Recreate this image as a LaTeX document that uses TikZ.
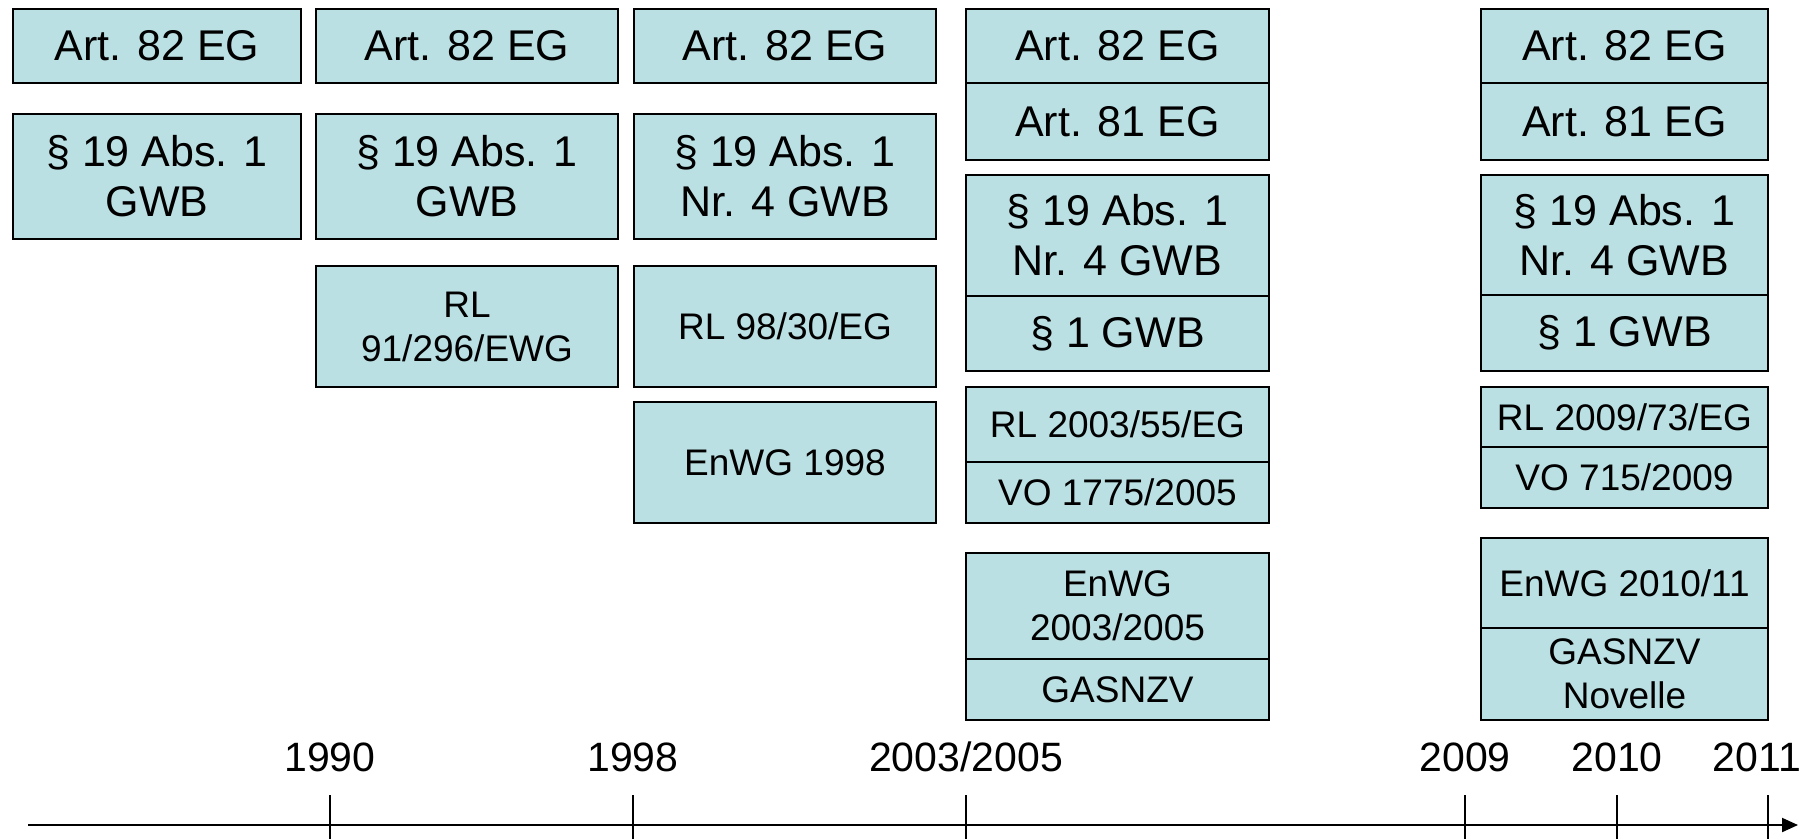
\documentclass[tikz,border=0pt]{standalone}
\usepackage{fontspec}
\setmainfont{Liberation Sans}
\usetikzlibrary{arrows.meta}
\definecolor{boxfill}{RGB}{187,224,227}
\tikzset{
  lawbox/.style={draw=black, fill=boxfill, line width=2pt, inner sep=0pt, outer sep=0pt,
    anchor=north west, align=center},
  big/.style={font=\fontsize{43}{50}\selectfont},
  small/.style={font=\fontsize{37}{44}\selectfont},
  yearlabel/.style={anchor=base, inner sep=0pt, font=\fontsize{41}{48}\selectfont},
  axisline/.style={line width=2pt, -{Triangle[length=16pt,width=14pt]}},
  tickline/.style={line width=2pt}
}
\newcommand{\lbox}[7]{\node[lawbox,#6,minimum width=#4pt,minimum height=#5pt] (#1) at (#2,#3) {#7};}
\begin{document}
\begin{tikzpicture}[x=1pt,y=-1pt]
\useasboundingbox (0,0) rectangle (1819,839);
% column 1
\lbox{c1a}{13}{9}{288}{74}{big}{Art. 82 EG}
\lbox{c1b}{13}{114}{288}{125}{big}{§ 19 Abs. 1\\GWB}
% column 2
\lbox{c2a}{316}{9}{302}{74}{big}{Art. 82 EG}
\lbox{c2b}{316}{114}{302}{125}{big}{§ 19 Abs. 1\\GWB}
\lbox{c2c}{316}{266}{302}{121}{small}{RL\\91/296/EWG}
% column 3
\lbox{c3a}{634}{9}{302}{74}{big}{Art. 82 EG}
\lbox{c3b}{634}{114}{302}{125}{big}{§ 19 Abs. 1\\Nr. 4 GWB}
\lbox{c3c}{634}{266}{302}{121}{small}{RL 98/30/EG}
\lbox{c3d}{634}{402}{302}{121}{small}{EnWG 1998}
% column 4
\lbox{c4a}{966}{9}{303}{74}{big}{Art. 82 EG}
\lbox{c4b}{966}{83}{303}{77}{big}{Art. 81 EG}
\lbox{c4c}{966}{175}{303}{121}{big}{§ 19 Abs. 1\\Nr. 4 GWB}
\lbox{c4d}{966}{296}{303}{75}{big}{§ 1 GWB}
\lbox{c4e}{966}{387}{303}{75}{small}{RL 2003/55/EG}
\lbox{c4f}{966}{462}{303}{61}{small}{VO 1775/2005}
\lbox{c4g}{966}{553}{303}{106}{small}{EnWG\\2003/2005}
\lbox{c4h}{966}{659}{303}{61}{small}{GASNZV}
% column 5
\lbox{c5a}{1481}{9}{287}{74}{big}{Art. 82 EG}
\lbox{c5b}{1481}{83}{287}{77}{big}{Art. 81 EG}
\lbox{c5c}{1481}{175}{287}{120}{big}{§ 19 Abs. 1\\Nr. 4 GWB}
\lbox{c5d}{1481}{295}{287}{76}{big}{§ 1 GWB}
\lbox{c5e}{1481}{387}{287}{60}{small}{RL 2009/73/EG}
\lbox{c5f}{1481}{447}{287}{61}{small}{VO 715/2009}
\lbox{c5g}{1481}{538}{287}{90}{small}{EnWG 2010/11}
\lbox{c5h}{1481}{628}{287}{92}{small}{GASNZV\\Novelle}
% time axis
\coordinate (axstart) at (28,825);
\coordinate (axend) at (1798,825);
\draw[axisline] (axstart) -- (axend);
\foreach \nm/\xx in {t1990/330, t1998/633, t2003/966, t2009/1465, t2010/1617, t2011/1768}{
  \coordinate (\nm top) at (\xx,795);
  \coordinate (\nm bot) at (\xx,839);
  \draw[tickline] (\nm top) -- (\nm bot);
}
\node[yearlabel] (y1990) at (330,771) {1990};
\node[yearlabel] (y1998) at (633,771) {1998};
\node[yearlabel] (y2003) at (966,771) {2003/2005};
\node[yearlabel] (y2009) at (1465,771) {2009};
\node[yearlabel] (y2010) at (1617,771) {2010};
\node[yearlabel] (y2011) at (1757,771) {2011};
\end{tikzpicture}
\end{document}
